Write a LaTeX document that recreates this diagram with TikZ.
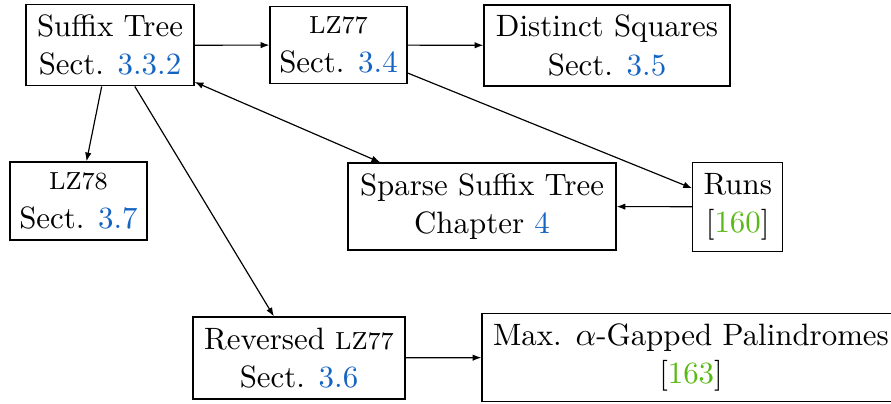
\documentclass[tikz,border=0pt]{standalone}
\usetikzlibrary{arrows.meta}
\definecolor{refblue}{RGB}{20,100,195}
\definecolor{citegreen}{RGB}{90,185,20}
\newcommand{\lzsmall}[1]{{\fontsize{8.4pt}{13pt}\selectfont #1}}
\begin{document}
\begin{tikzpicture}[x=0.34pt,y=-0.34pt,
  box/.style={draw, line width=0.4pt, inner sep=0pt, align=center,
    font=\fontsize{10.5pt}{13pt}\selectfont},
  conn/.style={line width=0.4pt, -{Latex[length=3pt,width=2.2pt]}},
  dconn/.style={line width=0.4pt, {Latex[length=3pt,width=2.2pt]}-{Latex[length=3pt,width=2.2pt]}}]
\useasboundingbox (0,0) rectangle (891,403);
\clip (0,0) rectangle (891,403);
\node[box, minimum width=168*0.34pt, minimum height=81*0.34pt] (st) at (110,45.3)
  {Suffix Tree\\Sect. \textcolor{refblue}{3.3.2}};
\node[box, minimum width=137*0.34pt, minimum height=77*0.34pt] (lz77) at (338.5,45)
  {\lzsmall{LZ77}\\Sect. \textcolor{refblue}{3.4}};
\node[box, minimum width=246*0.34pt, minimum height=81*0.34pt] (ds) at (607,45.5)
  {Distinct Squares\\Sect. \textcolor{refblue}{3.5}};
\node[box, minimum width=137*0.34pt, minimum height=78*0.34pt] (lz78) at (78.5,201)
  {\lzsmall{LZ78}\\Sect. \textcolor{refblue}{3.7}};
\node[box, minimum width=268*0.34pt, minimum height=87*0.34pt] (sst) at (482,206.5)
  {Sparse Suffix Tree\\Chapter \textcolor{refblue}{4}};
\node[box, minimum width=90*0.34pt, minimum height=89*0.34pt] (runs) at (737.7,206.7)
  {Runs\\{[}\textcolor{citegreen}{160}{]}};
\node[box, minimum width=212*0.34pt, minimum height=82*0.34pt] (rlz) at (299,358)
  {Reversed \lzsmall{LZ77}\\Sect. \textcolor{refblue}{3.6}};
\node[box, minimum width=418*0.34pt, minimum height=88*0.34pt] (maxg) at (691,357.2)
  {Max. $\alpha$-Gapped Palindromes\\{[}\textcolor{citegreen}{163}{]}};
\draw[conn] (st) -- (lz77);
\draw[conn] (lz77) -- (ds);
\draw[conn] (st) -- (lz78);
\draw[conn] (st) -- (rlz);
\draw[dconn] (st) -- (sst);
\draw[conn] (lz77) -- (runs);
\draw[conn] (runs) -- (sst);
\draw[conn] (rlz) -- (maxg);
\end{tikzpicture}
\end{document}
